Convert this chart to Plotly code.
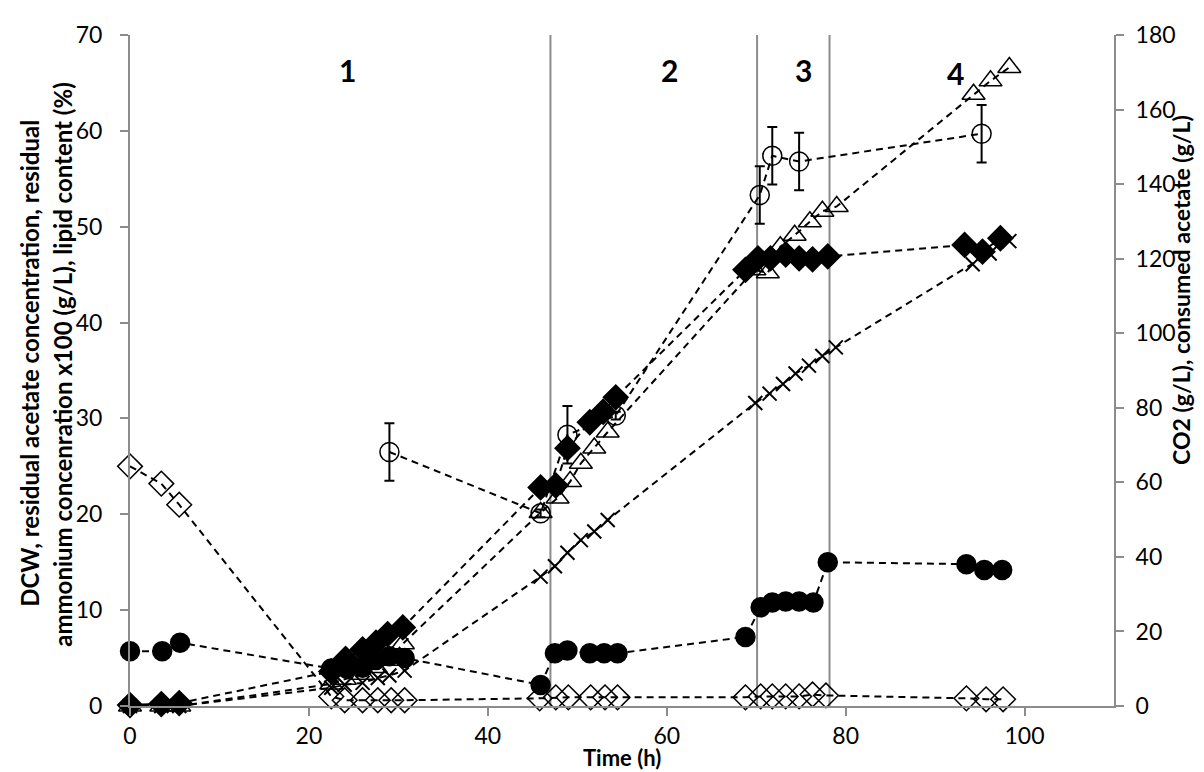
import plotly.graph_objects as go

# ---------------- data ----------------
# residual acetate (open diamonds, left axis)
t_acet = [0, 3.5, 5.5, 22.5, 24.0, 26.0, 27.7, 29.2, 30.7, 45.8, 47.6, 49.0, 51.5, 53.1, 54.5,
          68.8, 70.5, 71.8, 73.3, 74.8, 76.3, 77.8, 93.5, 95.7, 97.6]
acet = [25.0, 23.2, 21.0, 1.0, 0.6, 0.6, 0.6, 0.6, 0.6, 0.8, 0.9, 0.9, 0.9, 0.9, 0.9,
        0.9, 1.0, 1.0, 1.0, 1.0, 1.2, 1.1, 0.8, 0.7, 0.7]

# residual ammonium x100 (filled circles, left axis)
t_nh4 = [0, 3.6, 5.6, 22.5, 24.2, 26.0, 27.5, 29.0, 30.7, 45.9, 47.5, 48.9, 51.4, 53.0, 54.5,
         68.8, 70.5, 71.8, 73.3, 74.8, 76.4, 78.0, 93.5, 95.5, 97.5]
nh4 = [5.7, 5.7, 6.6, 3.9, 3.9, 4.0, 4.8, 5.2, 5.0, 2.2, 5.5, 5.8, 5.5, 5.5, 5.5,
       7.2, 10.3, 10.8, 10.9, 10.9, 10.8, 15.0, 14.8, 14.2, 14.2]

# DCW (filled diamonds, left axis)
t_dcw = [0, 3.5, 5.5, 22.5, 24.1, 26.0, 27.5, 28.8, 30.5, 45.9, 47.6, 48.9, 51.4, 52.9, 54.3,
         68.8, 70.2, 71.6, 73.3, 74.8, 76.3, 78.0, 93.3, 95.3, 97.3]
dcw = [0.1, 0.2, 0.3, 3.6, 4.9, 5.9, 6.6, 7.5, 8.2, 22.8, 23.0, 26.9, 29.6, 30.7, 32.2,
       45.5, 46.7, 46.7, 47.1, 46.7, 46.6, 46.9, 48.1, 47.4, 48.8]

# lipid content % (open circles with error bars, left axis)
t_lip = [29.0, 45.9, 48.9, 54.3, 70.4, 71.8, 74.8, 95.2]
lip = [26.5, 20.1, 28.3, 30.3, 53.3, 57.4, 56.8, 59.7]
lip_err = [3.0, 0.4, 3.0, 0.4, 3.0, 3.0, 3.0, 3.0]

# CO2 (open triangles, right axis)
t_co2 = [0, 3.5, 5.5, 22.5, 24.0, 26.0, 27.5, 29.0, 30.5, 45.9, 47.8, 49.2, 50.4, 51.9, 53.4,
         69.8, 71.3, 72.7, 74.3, 76.0, 77.4, 79.0, 94.3, 96.2, 98.3]
co2 = [0, 0, 0, 5.9, 7.2, 8.5, 10.3, 12.3, 16.7, 51.9, 55.8, 60.2, 65.1, 69.2, 73.5,
       117.0, 116.2, 123.2, 126.3, 129.9, 132.7, 134.0, 164.1, 167.7, 171.3]

# consumed acetate (crosses, right axis)
t_cons = [0, 3.5, 5.5, 22.5, 24.0, 26.0, 27.7, 29.0, 30.7, 45.9, 47.5, 48.9, 50.4, 51.9, 53.4,
          69.9, 71.5, 73.0, 74.4, 75.9, 77.4, 78.9, 94.2, 96.1, 98.3]
cons = [0, 0, 0, 4.9, 5.7, 6.2, 7.5, 8.2, 9.5, 34.7, 37.5, 41.1, 44.5, 46.8, 49.9,
        81.3, 83.8, 86.4, 89.2, 91.3, 93.9, 96.2, 118.5, 121.4, 124.7]

phase_bounds = [47.0, 70.1, 78.2]
phase_labels = ["1", "2", "3", "4"]
phase_label_x = [24.3, 60.3, 75.3, 92.3]
phase_label_y = [66.3, 66.3, 66.3, 66.0]

left_title_lines = ["DCW, residual acetate concentration, residual",
                    "ammonium concenration x100 (g/L), lipid content (%)"]
right_title = "CO2 (g/L), consumed acetate (g/L)"
x_title = "Time (h)"

# ---------------- figure ----------------
FONT = "Lato"
dash = "7px,5px"
line = dict(color="black", width=2, dash=dash)

fig = go.Figure()

def add(x, y, symbol, size, yaxis="y", err=None, lw=1.5):
    fig.add_trace(go.Scatter(
        x=x, y=y, mode="lines+markers", yaxis=yaxis, cliponaxis=False,
        line=line,
        marker=dict(symbol=symbol, size=size, color="black",
                    line=dict(color="black", width=lw)),
        error_y=(dict(type="data", array=err, visible=True, color="black",
                      thickness=2, width=5) if err is not None else None),
        showlegend=False,
    ))

add(t_co2, co2, "triangle-up-open", 20, yaxis="y2")
add(t_cons, cons, "x-thin-open", 14, yaxis="y2", lw=2)
add(t_acet, acet, "diamond-open", 19)
add(t_lip, lip, "circle-open", 19, err=lip_err)
add(t_nh4, nh4, "circle", 19)
add(t_dcw, dcw, "diamond", 19)

for xb in phase_bounds:
    fig.add_shape(type="line", x0=xb, x1=xb, y0=0, y1=70, xref="x", yref="y",
                  line=dict(color="#8c8c8c", width=2), layer="below")

for lab, lx, ly in zip(phase_labels, phase_label_x, phase_label_y):
    fig.add_annotation(x=lx, y=ly, xref="x", yref="y", text="<b>%s</b>" % lab,
                       showarrow=False, font=dict(family=FONT, size=30, color="black"))

axis_common = dict(showline=True, linecolor="#8c8c8c", linewidth=2, ticks="outside",
                   tickcolor="#8c8c8c", ticklen=8, tickwidth=2, showgrid=False, zeroline=False,
                   tickfont=dict(family=FONT, size=23, color="black"))

fig.update_layout(
    width=1204, height=772,
    margin=dict(l=122, r=98, t=22, b=74),
    plot_bgcolor="white", paper_bgcolor="white",
    xaxis=dict(range=[0, 110], dtick=20, tick0=0, **axis_common),
    yaxis=dict(range=[0, 70], dtick=10, ticklabelstandoff=13, **axis_common),
    yaxis2=dict(range=[0, 180], dtick=20, overlaying="y", side="right", anchor="x",
                ticklabelstandoff=7, **axis_common),
)

# x axis title
fig.add_annotation(xref="paper", yref="paper", x=0.5, y=-0.077, xanchor="center",
                   yanchor="middle", showarrow=False, text="<b>%s</b>" % x_title,
                   font=dict(family=FONT, size=22, color="black"))

# left axis title: two lines, each placed on its own
for txt, px in zip(left_title_lines, [-0.1016, -0.0681]):
    fig.add_annotation(xref="paper", yref="paper", x=px, y=0.51, xanchor="center",
                       yanchor="middle", textangle=-90, showarrow=False,
                       text="<b>%s</b>" % txt,
                       font=dict(family=FONT, size=24, color="black"))
fig.add_annotation(xref="paper", yref="paper", x=1.068, y=0.62, xanchor="center", yanchor="middle",
                   textangle=-90, showarrow=False,
                   text="<b>%s</b>" % right_title,
                   font=dict(family=FONT, size=23, color="black"))

fig.write_html("out.html")
